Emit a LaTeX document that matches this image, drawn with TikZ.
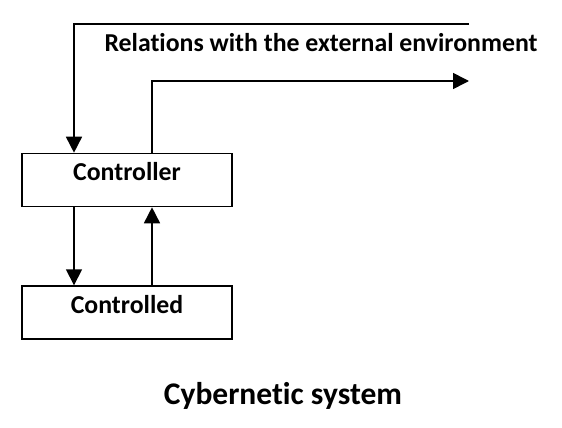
\documentclass[tikz,border=0pt]{standalone}
\usepackage{fontspec}
\setmainfont[Ligatures=NoCommon]{Carlito}
\usepackage{tikz}
\usetikzlibrary{arrows.meta,positioning}

\begin{document}
\begin{tikzpicture}[
  x=1pt, y=-1pt,
  node distance=78pt,
  every node/.style={font=\fontsize{25.8}{30}\selectfont\bfseries, align=center},
  block/.style={draw, line width=1.6pt, minimum width=210pt, minimum height=53pt, inner sep=0pt,
    text height=26pt, text depth=25pt},
  arr/.style={-{Triangle[length=16pt,width=16pt]}, line width=1.6pt}
]
\useasboundingbox (0,0) rectangle (562,428);

\node[block] (ctrl) at (127,180) {Controller};
\node[block, below=of ctrl] (ctrld) {Controlled};

\node[anchor=base] (rel) at (321,52) {Relations with the external environment};
\node[anchor=base, font=\fontsize{31.5}{36}\selectfont\bfseries] (title) at (283,404) {Cybernetic system};

\coordinate (envin) at (469,24);
\coordinate (envout) at (469,81);

\draw[arr] (envin) -| ([xshift=-53pt]ctrl.north);
\draw[arr] ([xshift=25pt]ctrl.north) |- (envout);
\draw[arr] ([xshift=-53pt]ctrl.south) -- ([xshift=-53pt]ctrld.north);
\draw[arr] ([xshift=25pt]ctrld.north) -- ([xshift=25pt]ctrl.south);
\end{tikzpicture}
\end{document}
